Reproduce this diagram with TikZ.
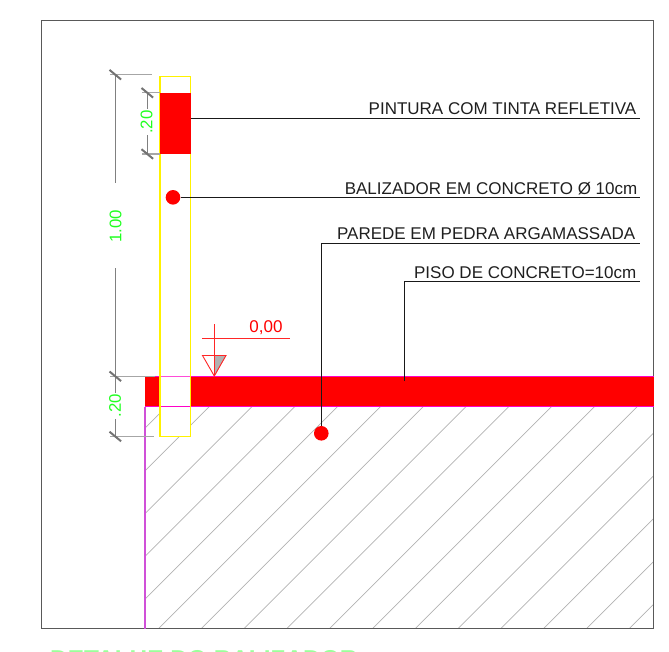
\documentclass[tikz,border=0pt]{standalone}
\usepackage{fontspec}
\setmainfont{Liberation Sans}
\definecolor{magentaedge}{HTML}{FF00C8}
\definecolor{wallpink}{HTML}{D050D8}
\definecolor{dimgreen}{HTML}{20FF20}
\tikzset{
  framebox/.style={draw=black!65,line width=1.2pt},
  hatchline/.style={draw=black!30,line width=0.7pt},
  postbox/.style={draw=yellow,line width=1.1pt},
  leader/.style={draw=black!90,line width=0.9pt},
  dimline/.style={draw=black!50,line width=1pt},
  tickline/.style={draw=black!55,line width=2pt},
  extline/.style={draw=black!35,line width=1.2pt},
  reddot/.style={circle,fill=red,draw=none,minimum size=14.6pt,inner sep=0pt},
  calltext/.style={anchor=base east,inner sep=0pt,text=black!88,font=\fontsize{17}{20}\selectfont},
  dimtext/.style={rotate=90,inner sep=0pt,text=dimgreen,font=\fontsize{16.8}{20}\selectfont},
  leveltext/.style={inner sep=0pt,text=red,font=\fontsize{17}{20}\selectfont},
  titletext/.style={anchor=north west,inner sep=0pt,text=dimgreen!45,font=\fontsize{24.4}{26}\bfseries\selectfont},
  levelline/.style={draw=red!85,line width=0.9pt}
}
\begin{document}
\begin{tikzpicture}[x=1pt,y=-1pt]
\useasboundingbox (0,0) rectangle (669,651);
% hatch of the ground
\begin{scope}
\clip (145,406) rectangle (653.7,628.7);
\foreach \k in {-6,...,18}{
  \pgfmathsetmacro{\c}{787+42.8*\k}
  \draw[hatchline] (\c-700,700) -- (\c,0);
}
\end{scope}
% frame
\draw[framebox] (41.5,20.5) rectangle (653.7,628.7);
% floor band
\fill[red] (145,376.5) rectangle (653.7,406.5);
\draw[magentaedge,line width=0.9pt] (145,376.5) -- (653.7,376.5) (145,406.5) -- (653.7,406.5);
\draw[wallpink,line width=1.1pt] (145,406.5) -- (145,628.7);
% post
\fill[white] (160,377) rectangle (190.5,436.5);
\draw[magentaedge!70,line width=0.9pt] (160,376.5) -- (190.5,376.5);
\draw[magentaedge,line width=0.9pt] (160,406.5) -- (190.5,406.5);
\draw[postbox] (160,76.5) rectangle (190.5,436.5);
\fill[red] (159.6,92.5) rectangle (190.9,154);
% dimensions
\coordinate (dA) at (115.3,74.7);
\coordinate (dB) at (115.3,183);
\coordinate (dC) at (115.3,268);
\coordinate (dD) at (115.3,376.3);
\coordinate (dE) at (115.3,393);
\coordinate (dF) at (115.3,419);
\coordinate (dG) at (115.3,436.5);
\coordinate (dH) at (147.3,92.8);
\coordinate (dI) at (147.3,109);
\coordinate (dJ) at (147.3,135);
\coordinate (dK) at (147.3,154);
\draw[dimline] (dA) -- (dB) (dC) -- (dD) (dD) -- (dE) (dF) -- (dG) (dH) -- (dI) (dJ) -- (dK);
\draw[extline] (110,74.7) -- (152,74.7) (110,376.3) -- (155,376.3) (110,436.5) -- (154,436.5) (142,92.8) -- (160,92.8) (142,154) -- (160,154);
\foreach \p in {dA,dD,dG,dH,dK}{
  \draw[tickline] ([shift={(-5.8,-4.8)}]\p) -- ([shift={(5.8,4.8)}]\p);
}
\node[dimtext] (tA) at (115.5,226.5) {1.00};
\node[dimtext] (tB) at (115,405.5) {.20};
\node[dimtext] (tC) at (146.5,122) {.20};
% callouts
\node[calltext] (n1) at (636.5,114.8) {PINTURA COM TINTA REFLETIVA};
\node[calltext] (n2) at (637.5,194.8) {BALIZADOR EM CONCRETO Ø 10cm};
\node[calltext] (n3) at (635.5,239) {PAREDE EM PEDRA ARGAMASSADA};
\node[calltext] (n4) at (636.5,278.5) {PISO DE CONCRETO=10cm};
\node[reddot] (d1) at (173,197.3) {};
\node[reddot] (d2) at (321.3,433.3) {};
\coordinate (e1a) at (190.5,118.7);
\coordinate (e1b) at (640,118.7);
\coordinate (e2b) at (640,197.3);
\coordinate (e3a) at (321.3,243.3);
\coordinate (e3b) at (640,243.3);
\coordinate (e4a) at (404.5,281.7);
\coordinate (e4b) at (640,281.7);
\coordinate (e4c) at (404.5,381);
\draw[leader] (e1a) -- (e1b);
\draw[leader] (d1) -- (e2b);
\draw[leader] (d2) -- (e3a) -- (e3b);
\draw[leader] (e4c) -- (e4a) -- (e4b);
% level mark
\coordinate (l1) at (202.5,355.5);
\coordinate (l2) at (226,355.5);
\coordinate (l3) at (214.3,376);
\coordinate (l4) at (214.3,355.5);
\fill[black!30] (l4) -- (l2) -- (l3) -- cycle;
\draw[levelline] (l1) -- (l2) -- (l3) -- cycle;
\coordinate (l5) at (214.3,324);
\coordinate (l6) at (202,338.3);
\coordinate (l7) at (290,338.3);
\draw[levelline] (l5) -- (l3);
\draw[levelline] (l6) -- (l7);
\node[leveltext] (lv) at (266,327.5) {0,00};
% title, cut by the page edge
\begin{scope}
\clip (0,0) rectangle (669,651);
\node[titletext] (title) at (50,650.2) {DETALHE DO BALIZADOR};
\end{scope}
\end{tikzpicture}
\end{document}
